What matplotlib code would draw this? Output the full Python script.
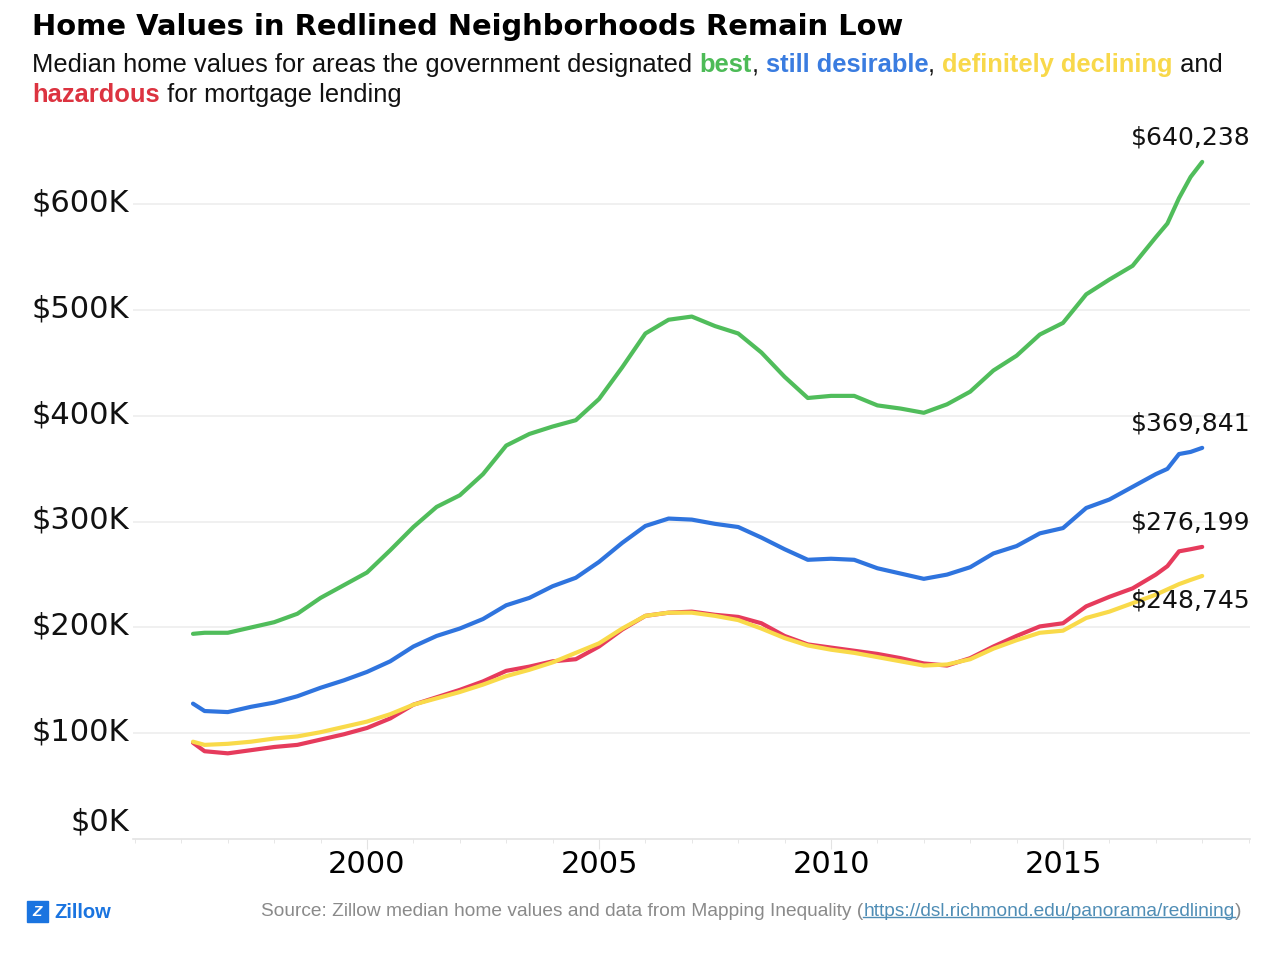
import matplotlib
matplotlib.use('Agg')
from matplotlib import pyplot as plt
from matplotlib.patches import Rectangle
from matplotlib.lines import Line2D

# half-yearly readings (thousands of dollars)
years = [1996.25, 1996.5, 1997.0, 1997.5, 1998.0, 1998.5, 1999.0, 1999.5,
         2000.0, 2000.5, 2001.0, 2001.5, 2002.0, 2002.5, 2003.0, 2003.5,
         2004.0, 2004.5, 2005.0, 2005.5, 2006.0, 2006.5, 2007.0, 2007.5,
         2008.0, 2008.5, 2009.0, 2009.5, 2010.0, 2010.5, 2011.0, 2011.5,
         2012.0, 2012.5, 2013.0, 2013.5, 2014.0, 2014.5, 2015.0, 2015.5,
         2016.0, 2016.5, 2017.0, 2017.25, 2017.5, 2017.75, 2018.0]

best = [194, 195, 195, 200, 205, 213, 228, 240,
        252, 273, 295, 314, 325, 345, 372, 383,
        390, 396, 416, 446, 478, 491, 494, 485,
        478, 460, 437, 417, 419, 419, 410, 407,
        403, 411, 423, 443, 457, 477, 488, 515,
        529, 542, 569, 582, 606, 626, 640.238]

desirable = [128, 121, 120, 125, 129, 135, 143, 150,
             158, 168, 182, 192, 199, 208, 221, 228,
             239, 247, 262, 280, 296, 303, 302, 298,
             295, 285, 274, 264, 265, 264, 256, 251,
             246, 250, 257, 270, 277, 289, 294, 313,
             321, 333, 345, 350, 364, 366, 369.841]

hazardous = [91, 83, 81, 84, 87, 89, 94, 99,
             105, 114, 127, 134, 141, 149, 159, 163,
             168, 170, 182, 198, 211, 214, 215, 212,
             210, 204, 192, 184, 181, 178, 175, 171,
             166, 164, 171, 182, 192, 201, 204, 220,
             229, 237, 250, 258, 272, 274, 276.199]

declining = [92, 89, 90, 92, 95, 97, 101, 106,
             111, 118, 127, 133, 139, 146, 154, 160,
             167, 176, 185, 199, 211, 214, 214, 211,
             207, 199, 190, 183, 179, 176, 172, 168,
             164, 165, 170, 180, 188, 195, 197, 209,
             215, 223, 231, 236, 241, 245, 248.745]

end_labels = ['$640,238', '$369,841', '$276,199', '$248,745']
yticks = [0, 100, 200, 300, 400, 500, 600]
ytick_labels = ['$0K', '$100K', '$200K', '$300K', '$400K', '$500K', '$600K']
xticks = [2000, 2005, 2010, 2015]

GREEN = '#50bd5b'
BLUE = '#2f74de'
YELLOW = '#f9da4a'
RED = '#e63b5c'

fig = plt.figure(figsize=(12.82, 9.56), dpi=100)
ax = fig.add_axes([133/1282, 117/956, 1117/1282, 698/956])

for y in yticks[1:]:
    ax.axhline(y, color='#ededed', lw=1.2, zorder=0)

lw = 3.0
ax.plot(years, best, color=GREEN, lw=lw, solid_capstyle='round', solid_joinstyle='round')
ax.plot(years, desirable, color=BLUE, lw=lw, solid_capstyle='round', solid_joinstyle='round')
ax.plot(years, hazardous, color=RED, lw=lw, solid_capstyle='round', solid_joinstyle='round')
ax.plot(years, declining, color=YELLOW, lw=lw, solid_capstyle='round', solid_joinstyle='round')

ax.set_xlim(1994.957, 2019.03)
ax.set_ylim(0, 660)

for s in ['top', 'right', 'left']:
    ax.spines[s].set_visible(False)
ax.spines['bottom'].set_color('#e3e3e3')
ax.spines['bottom'].set_linewidth(1.2)

ax.set_xticks(xticks)
ax.set_xticklabels([str(x) for x in xticks])
ax.set_xticks(list(range(1995, 2020)), minor=True)
ax.tick_params(axis='x', which='major', length=7, color='#e3e3e3', labelsize=22, pad=1)
ax.tick_params(axis='x', which='minor', length=3, color='#e3e3e3')
ax.set_yticks([])

# y tick labels ($0K sits higher than its gridline)
for v, lab in zip(yticks, ytick_labels):
    off = 12 if v == 0 else 1
    ax.annotate(lab, xy=(0, v), xycoords=('axes fraction', 'data'),
                xytext=(-3, off), textcoords='offset points',
                ha='right', va='center', fontsize=22, color='#111111',
                annotation_clip=False)

# end value labels
ends = [(best, 'bottom', 9), (desirable, 'bottom', 9), (hazardous, 'bottom', 9), (declining, 'top', -9)]
for (series, va, dy), lab in zip(ends, end_labels):
    ax.annotate(lab, xy=(years[-1], series[-1]), xytext=(35, dy), textcoords='offset points',
                ha='right', va=va, fontsize=18, color='#111111', annotation_clip=False)

# title and subtitle
fig.text(32/1282, 1 - 27/956, 'Home Values in Redlined Neighborhoods Remain Low',
         fontsize=20.9, fontweight='bold', ha='left', va='center', color='#000000')


def write_pieces(x, y, pieces, size, family):
    prev = fig.text(x, y, pieces[0][0], color=pieces[0][1], fontweight=pieces[0][2],
                    fontsize=size, family=family, ha='left', va='center')
    out = [prev]
    for txt, col, wt in pieces[1:]:
        prev = ax.annotate(txt, xy=(1, 0), xycoords=prev, ha='left', va='bottom',
                           color=col, fontweight=wt, fontsize=size, family=family,
                           annotation_clip=False)
        out.append(prev)
    return out


line1 = [('Median home values for areas the government designated ', '#111111', 'normal'),
         ('best', '#4dbb57', 'bold'),
         (', ', '#111111', 'normal'),
         ('still desirable', '#3a7ce0', 'bold'),
         (', ', '#111111', 'normal'),
         ('definitely declining', '#f8d84a', 'bold'),
         (' and', '#111111', 'normal')]
line2 = [('hazardous', '#dc3340', 'bold'),
         (' for mortgage lending', '#111111', 'normal')]
write_pieces(32/1282, 1 - 65/956, line1, 18.4, 'Liberation Sans')
write_pieces(32/1282, 1 - 95/956, line2, 18.4, 'Liberation Sans')

# footer
fig.patches.append(Rectangle((27/1282, 1 - 922/956), 21/1282, 21/956,
                             transform=fig.transFigure, color='#1a74e0', figure=fig))
fig.text(37.5/1282, 1 - 912/956, 'Z', color='white', fontsize=11, fontweight='bold',
         style='italic', ha='center', va='center', family='Liberation Sans')
fig.text(54/1282, 1 - 912/956, 'Zillow', color='#1a74e0', fontsize=14.5, fontweight='bold',
         ha='left', va='center', family='Liberation Sans')

src = [('Source: Zillow median home values and data from Mapping Inequality (', '#8a8a8a', 'normal'),
       ('https://dsl.richmond.edu/panorama/redlining', '#4f8db5', 'normal'),
       (')', '#8a8a8a', 'normal')]
parts = write_pieces(261/1282, 1 - 912/956, src, 13.8, 'Liberation Sans')

fig.canvas.draw()
bb = parts[1].get_window_extent().transformed(fig.transFigure.inverted())
uy = bb.y0 + 4/956
fig.lines.append(Line2D([bb.x0, bb.x1], [uy, uy], transform=fig.transFigure,
                        color='#4f8db5', lw=1, figure=fig))

fig.savefig('out.png', dpi=100, facecolor='white')
